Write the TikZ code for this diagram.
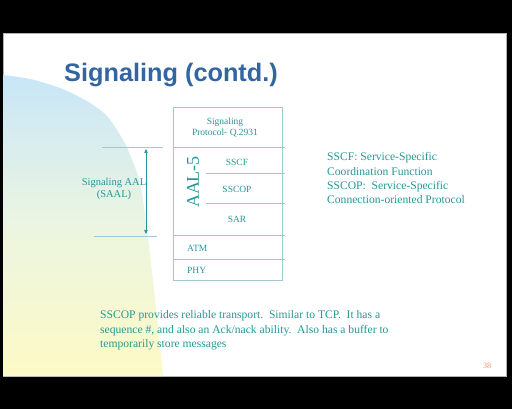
\documentclass[tikz,border=0pt]{standalone}
\usepackage{fontspec}
\setmainfont{Liberation Serif}
\newfontfamily\titlefont{Liberation Sans}
\usetikzlibrary{arrows.meta}
\definecolor{tealtxt}{RGB}{40,150,150}
\definecolor{boxline}{RGB}{160,200,205}
\definecolor{titleblue}{RGB}{51,102,160}
\definecolor{gblue}{RGB}{200,230,248}
\definecolor{gmid}{RGB}{236,245,225}
\definecolor{gyellow}{RGB}{252,250,198}
\definecolor{pagenum}{RGB}{240,150,90}
\tikzset{
  lbl/.style={text=tealtxt, font=\fontsize{9.5}{11}\selectfont, inner sep=0pt},
  body/.style={text=tealtxt, font=\fontsize{11.6}{14.3}\selectfont, inner sep=0pt, align=left},
  rule/.style={draw=boxline, line width=0.7pt},
}
\begin{document}
\begin{tikzpicture}[x=1pt,y=-1pt]
\useasboundingbox (0,0) rectangle (512,409);
\fill[black] (0,0) rectangle (512,409);
\fill[white, draw=gray!60, line width=0.5pt] (3,33) rectangle (506,376);
% gradient shape
\shade[top color=gblue, bottom color=gyellow, middle color=gmid]
  (3,75) -- plot[smooth] coordinates {(3,75) (30,79) (60,88) (85,100) (105,114) (117,130) (128,150) (140,183) (147,230) (154,290) (163,376)} -- (3,376) -- cycle;
% title
\node[anchor=west, inner sep=0pt, text=titleblue, font=\titlefont\bfseries\fontsize{25.3}{28}\selectfont] (title) at (64,75) {Signaling (contd.)};
% stack box
\draw[rule] (173,107) rectangle (282,280);
\draw[rule] (173,147) -- (285,147);
\draw[rule] (206,173) -- (285,173);
\draw[rule] (206,203) -- (285,203);
\draw[rule] (173,235) -- (285,235);
\draw[rule] (173,259) -- (285,259);
% side lines
\draw[rule] (102,147) -- (163,147);
\draw[rule] (94,236) -- (157,236);
\coordinate (atop) at (146,149);
\coordinate (abot) at (146,234);
\draw[draw=tealtxt, line width=0.6pt, {Triangle[length=4pt,width=3.5pt]}-{Triangle[length=4pt,width=3.5pt]}] (atop) -- (abot);
% labels
\node[lbl, align=center] (sig) at (225,127.5) {Signaling\\Protocol- Q.2931};
\node[lbl] (sscf) at (237,162) {SSCF};
\node[lbl] (sscop) at (237,189.5) {SSCOP};
\node[lbl] (sar) at (237,219) {SAR};
\node[lbl, anchor=west] (atm) at (187,248) {ATM};
\node[lbl, anchor=west] (phy) at (187,270) {PHY};
\node[text=tealtxt, inner sep=0pt, rotate=90, font=\fontsize{18}{20}\selectfont] (aal5) at (193,182) {AAL-5};
\node[lbl, align=center, font=\fontsize{10.5}{12}\selectfont] (saal) at (114,189) {Signaling AAL\\(SAAL)};
\node[body, anchor=north west] (defs) at (327,152.5) {SSCF: Service-Specific\\Coordination Function\\SSCOP:\ \ Service-Specific\\Connection-oriented Protocol};
\node[body, anchor=north west] (note) at (100,310.5) {SSCOP provides reliable transport.\ \ Similar to TCP.\ \ It has a\\sequence \#, and also an Ack/nack ability.\ \ Also has a buffer to\\temporarily store messages};
\node[text=pagenum, inner sep=0pt, font=\fontsize{8}{9}\selectfont] (pg) at (487,366) {38};
\end{tikzpicture}
\end{document}
